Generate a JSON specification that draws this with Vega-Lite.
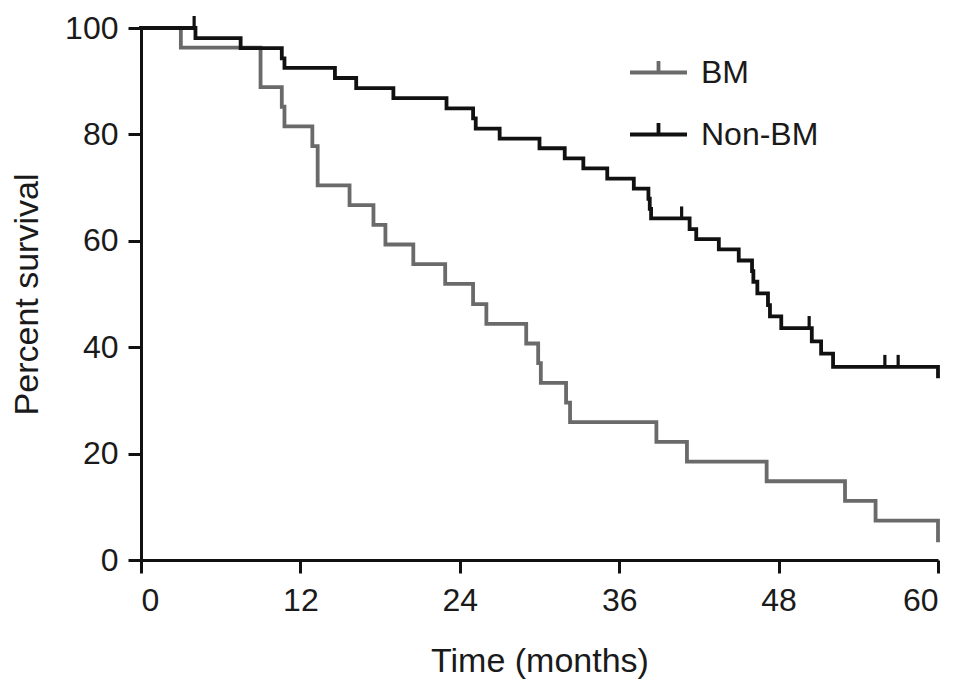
{
  "$schema": "https://vega.github.io/schema/vega-lite/v6.json",
  "autosize": {"type": "none"},
  "width": 797,
  "height": 532,
  "padding": {"left": 141, "top": 28, "right": 31, "bottom": 135},
  "background": "white",
  "config": {
    "view": {"stroke": null},
    "font": "Liberation Sans",
    "axis": {
      "grid": false,
      "domainColor": "#111111",
      "domainWidth": 3,
      "tickColor": "#111111",
      "tickWidth": 3,
      "tickSize": 13,
      "labelFontSize": 32,
      "labelColor": "#1a1a1a",
      "labelFont": "Liberation Sans",
      "titleFontSize": 34,
      "titleFontWeight": "normal",
      "titleColor": "#1a1a1a",
      "titleFont": "Liberation Sans"
    },
    "legend": {
      "symbolType": "M-1,0L1,0M0,0L0,-0.4",
      "symbolSize": 3249,
      "symbolStrokeWidth": 3.8,
      "labelFontSize": 32,
      "labelColor": "#1a1a1a",
      "labelOffset": 12,
      "rowPadding": 15,
      "padding": 0
    }
  },
  "datasets": {
    "km": [
      {"group": "BM", "month": 0, "surv": 100},
      {"group": "BM", "month": 3.0, "surv": 96.3},
      {"group": "BM", "month": 9.0, "surv": 88.9},
      {"group": "BM", "month": 10.6, "surv": 85.2},
      {"group": "BM", "month": 10.8, "surv": 81.5},
      {"group": "BM", "month": 12.9, "surv": 77.8},
      {"group": "BM", "month": 13.3, "surv": 70.4},
      {"group": "BM", "month": 15.7, "surv": 66.7},
      {"group": "BM", "month": 17.5, "surv": 63.0},
      {"group": "BM", "month": 18.4, "surv": 59.3},
      {"group": "BM", "month": 20.5, "surv": 55.6},
      {"group": "BM", "month": 22.9, "surv": 51.9},
      {"group": "BM", "month": 25.0, "surv": 48.1},
      {"group": "BM", "month": 26.0, "surv": 44.4},
      {"group": "BM", "month": 29.0, "surv": 40.7},
      {"group": "BM", "month": 29.9, "surv": 37.0},
      {"group": "BM", "month": 30.1, "surv": 33.3},
      {"group": "BM", "month": 32.0, "surv": 29.6},
      {"group": "BM", "month": 32.3, "surv": 25.9},
      {"group": "BM", "month": 38.8, "surv": 22.2},
      {"group": "BM", "month": 41.1, "surv": 18.5},
      {"group": "BM", "month": 47.1, "surv": 14.8},
      {"group": "BM", "month": 53.0, "surv": 11.1},
      {"group": "BM", "month": 55.3, "surv": 7.4},
      {"group": "BM", "month": 60.0, "surv": 3.7},
      {"group": "Non-BM", "month": 0, "surv": 100},
      {"group": "Non-BM", "month": 4.1, "surv": 98.1},
      {"group": "Non-BM", "month": 7.5, "surv": 96.2},
      {"group": "Non-BM", "month": 10.6, "surv": 94.3},
      {"group": "Non-BM", "month": 10.8, "surv": 92.5},
      {"group": "Non-BM", "month": 14.6, "surv": 90.6},
      {"group": "Non-BM", "month": 16.2, "surv": 88.7},
      {"group": "Non-BM", "month": 19.0, "surv": 86.8},
      {"group": "Non-BM", "month": 23.0, "surv": 84.9},
      {"group": "Non-BM", "month": 25.0, "surv": 83.0},
      {"group": "Non-BM", "month": 25.2, "surv": 81.1},
      {"group": "Non-BM", "month": 27.0, "surv": 79.2},
      {"group": "Non-BM", "month": 30.0, "surv": 77.4},
      {"group": "Non-BM", "month": 31.9, "surv": 75.5},
      {"group": "Non-BM", "month": 33.3, "surv": 73.6},
      {"group": "Non-BM", "month": 35.1, "surv": 71.7},
      {"group": "Non-BM", "month": 37.1, "surv": 69.8},
      {"group": "Non-BM", "month": 38.2, "surv": 67.9},
      {"group": "Non-BM", "month": 38.3, "surv": 66.0},
      {"group": "Non-BM", "month": 38.4, "surv": 64.2},
      {"group": "Non-BM", "month": 41.3, "surv": 62.2},
      {"group": "Non-BM", "month": 41.8, "surv": 60.3},
      {"group": "Non-BM", "month": 43.5, "surv": 58.4},
      {"group": "Non-BM", "month": 45.0, "surv": 56.3},
      {"group": "Non-BM", "month": 46.0, "surv": 54.3},
      {"group": "Non-BM", "month": 46.1, "surv": 52.3},
      {"group": "Non-BM", "month": 46.4, "surv": 50.1},
      {"group": "Non-BM", "month": 47.2, "surv": 47.9},
      {"group": "Non-BM", "month": 47.35, "surv": 45.8},
      {"group": "Non-BM", "month": 48.2, "surv": 43.6},
      {"group": "Non-BM", "month": 50.5, "surv": 41.1},
      {"group": "Non-BM", "month": 51.2, "surv": 38.8},
      {"group": "Non-BM", "month": 52.1, "surv": 36.3},
      {"group": "Non-BM", "month": 60.0, "surv": 34.5}
    ],
    "cens": [
      {"group": "Non-BM", "month": 4.0, "surv": 100},
      {"group": "Non-BM", "month": 40.7, "surv": 64.2},
      {"group": "Non-BM", "month": 50.3, "surv": 43.6},
      {"group": "Non-BM", "month": 56.0, "surv": 36.3},
      {"group": "Non-BM", "month": 57.0, "surv": 36.3}
    ]
  },
  "layer": [
    {
      "data": {"name": "km"},
      "mark": {"type": "line", "interpolate": "step-after", "strokeWidth": 3.8, "strokeCap": "square", "strokeJoin": "miter"},
      "encoding": {
        "x": {
          "field": "month", "type": "quantitative",
          "scale": {"domain": [0, 60], "nice": false, "zero": false},
          "axis": {"values": [0, 12, 24, 36, 48, 60], "title": "Time (months)", "titlePadding": 28, "labelPadding": 12}
        },
        "y": {
          "field": "surv", "type": "quantitative",
          "scale": {"domain": [0, 100], "nice": false},
          "axis": {"values": [0, 20, 40, 60, 80, 100], "title": "Percent survival", "titlePadding": 20, "labelPadding": 10}
        },
        "stroke": {
          "field": "group", "type": "nominal",
          "scale": {"domain": ["BM", "Non-BM"], "range": ["#6a6a6a", "#111111"]},
          "legend": {"title": null, "orient": "none", "legendX": 487, "legendY": 14}
        }
      }
    },
    {
      "data": {"name": "cens"},
      "mark": {"type": "point", "shape": "M0,0L0,-2", "filled": false, "strokeWidth": 3.2, "size": 144, "opacity": 1},
      "encoding": {
        "x": {"field": "month", "type": "quantitative"},
        "y": {"field": "surv", "type": "quantitative"},
        "stroke": {"field": "group", "type": "nominal"}
      }
    }
  ]
}
